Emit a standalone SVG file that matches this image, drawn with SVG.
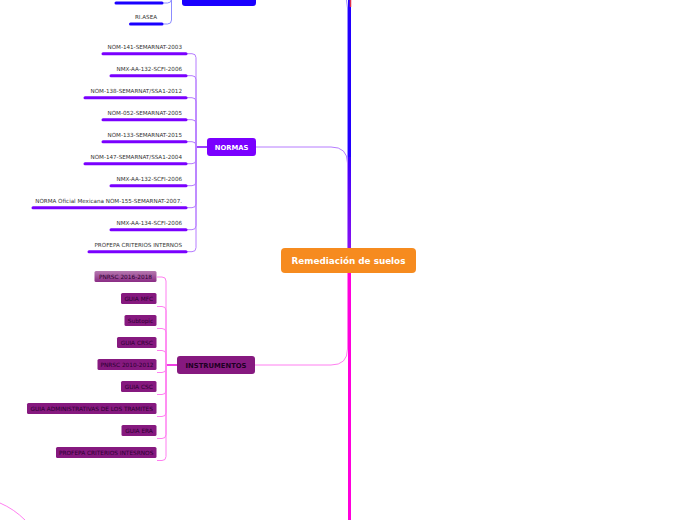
<svg xmlns="http://www.w3.org/2000/svg" width="696" height="520" viewBox="0 0 696 520">
<defs>
<style>
.t{font-family:"DejaVu Sans",Verdana,sans-serif;font-size:5.6px;fill:#333;text-anchor:end}
.bt{font-family:"DejaVu Sans",Verdana,sans-serif;font-size:5.8px;fill:#2a0030;text-anchor:middle}
.nbar{stroke:#7a00ff;stroke-width:3;stroke-linecap:round;fill:none}
.bbar{stroke:#1a00ff;stroke-width:3;stroke-linecap:round;fill:none}
.nbr{stroke:#b67cff;stroke-width:1;fill:none}
.ibr{stroke:#ff7ff0;stroke-width:1;fill:none}
.bbr{stroke:#8c8cff;stroke-width:1;fill:none}
.ibox{fill:#86197f}
</style>
<linearGradient id="g1" x1="0" y1="0" x2="0" y2="1">
<stop offset="0" stop-color="#b679b0"/>
<stop offset="1" stop-color="#8a2b84"/>
</linearGradient>
<linearGradient id="gt" x1="0" y1="157" x2="0" y2="248" gradientUnits="userSpaceOnUse">
<stop offset="0" stop-color="#3a00ff"/>
<stop offset="1" stop-color="#8a10f0"/>
</linearGradient>
</defs>

<g id="connectors">
<path d="M256,-12 H330 Q347.5,-12 347.5,8 V248" stroke="#9a8cff" stroke-width="1" fill="none"/>
<path d="M256,147 H331 Q347.5,147 347.5,163 V248" stroke="#b67cff" stroke-width="1" fill="none"/>
<path d="M255,365 H331 Q347.5,365 347.5,349 V273" stroke="#ff7ff0" stroke-width="1" fill="none"/>
<line x1="349.5" y1="0" x2="349.5" y2="157" stroke="#2200ff" stroke-width="3"/>
<line x1="349.5" y1="157" x2="349.5" y2="249" stroke="url(#gt)" stroke-width="3"/>
<line x1="350.5" y1="0" x2="350.5" y2="7" stroke="#e0304a" stroke-width="1.5"/>
<line x1="349.5" y1="272" x2="349.5" y2="520" stroke="#ff00dc" stroke-width="3"/>
<path d="M0,503 Q14,509 25,520" stroke="#ff7ff0" stroke-width="1" fill="none"/>

<path class="bbr" d="M171.5,-10 V-1 Q171.5,3 167.5,3 H163"/>
<path class="bbr" d="M171.5,-10 V20 Q171.5,24 167.5,24 H163"/>
<line class="bbar" x1="116" y1="3" x2="162" y2="3"/>
<line class="bbar" x1="130.5" y1="24" x2="162" y2="24"/>

<line x1="196" y1="147" x2="207" y2="147" stroke="#7a00ff" stroke-width="1.5"/>
<path class="nbr" d="M196,147 V57.7 Q196,53.7 192,53.7 H187"/>
<path class="nbr" d="M196,147 V79.7 Q196,75.7 192,75.7 H187"/>
<path class="nbr" d="M196,147 V101.7 Q196,97.7 192,97.7 H187"/>
<path class="nbr" d="M196,147 V123.7 Q196,119.7 192,119.7 H187"/>
<path class="nbr" d="M196,147 V145.7 Q196,141.7 192,141.7 H187"/>
<path class="nbr" d="M196,147 V159.7 Q196,163.7 192,163.7 H187"/>
<path class="nbr" d="M196,147 V181.7 Q196,185.7 192,185.7 H187"/>
<path class="nbr" d="M196,147 V203.7 Q196,207.7 192,207.7 H187"/>
<path class="nbr" d="M196,147 V225.7 Q196,229.7 192,229.7 H187"/>
<path class="nbr" d="M196,147 V247.7 Q196,251.7 192,251.7 H187"/>
<line class="nbar" x1="103" y1="53.7" x2="186" y2="53.7"/>
<line class="nbar" x1="111" y1="75.7" x2="186" y2="75.7"/>
<line class="nbar" x1="85" y1="97.7" x2="186" y2="97.7"/>
<line class="nbar" x1="103" y1="119.7" x2="186" y2="119.7"/>
<line class="nbar" x1="103" y1="141.7" x2="186" y2="141.7"/>
<line class="nbar" x1="85" y1="163.7" x2="186" y2="163.7"/>
<line class="nbar" x1="111" y1="185.7" x2="186" y2="185.7"/>
<line class="nbar" x1="33" y1="207.7" x2="186" y2="207.7"/>
<line class="nbar" x1="111" y1="229.7" x2="186" y2="229.7"/>
<line class="nbar" x1="89" y1="251.7" x2="186" y2="251.7"/>

<line x1="166" y1="365" x2="177" y2="365" stroke="#e800d8" stroke-width="1.5"/>
<path class="ibr" d="M166,365 V281 Q166,277 162,277 H157"/>
<path class="ibr" d="M166,365 V310.5 Q166,306.5 162,306.5 H157"/>
<path class="ibr" d="M166,365 V332.5 Q166,328.5 162,328.5 H157"/>
<path class="ibr" d="M166,365 V354.5 Q166,350.5 162,350.5 H157"/>
<path class="ibr" d="M166,365 V368.5 Q166,372.5 162,372.5 H157"/>
<path class="ibr" d="M166,365 V390.5 Q166,394.5 162,394.5 H157"/>
<path class="ibr" d="M166,365 V412.5 Q166,416.5 162,416.5 H157"/>
<path class="ibr" d="M166,365 V434.5 Q166,438.5 162,438.5 H157"/>
<path class="ibr" d="M166,365 V456.5 Q166,460.5 162,460.5 H157"/>
</g>

<g id="top-node">
<rect x="182" y="-14" width="74" height="20" rx="3" fill="#1a00ff"/>
</g>
<g id="ri-asea">
<text class="t" x="146" y="19" style="text-anchor:middle">RI.ASEA</text>
</g>

<g id="center">
<rect x="281" y="248" width="135" height="25" rx="4" fill="#f68b1f"/>
<text x="348.5" y="264" style="font-family:'DejaVu Sans',Verdana,sans-serif;font-size:8.8px;font-weight:bold;fill:#fff;text-anchor:middle">Remediación de suelos</text>
</g>

<g id="normas">
<rect x="207" y="138" width="49" height="18" rx="3" fill="#7a00ff"/>
<text x="231.5" y="149.7" style="font-family:'DejaVu Sans',Verdana,sans-serif;font-size:6.8px;font-weight:bold;fill:#fff;text-anchor:middle">NORMAS</text>
</g>

<g id="instrumentos">
<rect x="177" y="356" width="78" height="18" rx="3" fill="#86197f"/>
<text x="216" y="367.7" style="font-family:'DejaVu Sans',Verdana,sans-serif;font-size:6.8px;font-weight:bold;fill:#1e0024;text-anchor:middle">INSTRUMENTOS</text>
</g>

<g id="normas-items">
<text class="t" x="182" y="48.7">NOM-141-SEMARNAT-2003</text>
<text class="t" x="182" y="70.7">NMX-AA-132-SCFI-2006</text>
<text class="t" x="182" y="92.7">NOM-138-SEMARNAT/SSA1-2012</text>
<text class="t" x="182" y="114.7">NOM-052-SEMARNAT-2005</text>
<text class="t" x="182" y="136.7">NOM-133-SEMARNAT-2015</text>
<text class="t" x="182" y="158.7">NOM-147-SEMARNAT/SSA1-2004</text>
<text class="t" x="182" y="180.7">NMX-AA-132-SCFI-2006</text>
<text class="t" x="182" y="202.7">NORMA Oficial Mexicana NOM-155-SEMARNAT-2007.</text>
<text class="t" x="182" y="224.7">NMX-AA-134-SCFI-2006</text>
<text class="t" x="182" y="246.7">PROFEPA CRITERIOS INTERNOS</text>
</g>

<g id="instrumentos-items">
<rect x="94.5" y="271" width="62" height="11" rx="1.5" fill="url(#g1)"/>
<text class="bt" x="125.5" y="278.7">PNRSC 2016-2018</text>
<rect class="ibox" x="121" y="293" width="35.5" height="11" rx="1.5"/>
<text class="bt" x="138.7" y="300.7">GUIA MFC</text>
<rect class="ibox" x="124.5" y="315" width="32" height="11" rx="1.5"/>
<text class="bt" x="140.5" y="322.7">Subtopic</text>
<rect class="ibox" x="117" y="337" width="39.5" height="11" rx="1.5"/>
<text class="bt" x="136.7" y="344.7">GUIA CRSC</text>
<rect class="ibox" x="97.5" y="359" width="59" height="11" rx="1.5"/>
<text class="bt" x="127" y="366.7">PNRSC 2010-2012</text>
<rect class="ibox" x="121" y="381" width="35.5" height="11" rx="1.5"/>
<text class="bt" x="138.7" y="388.7">GUIA CSC</text>
<rect class="ibox" x="27" y="403" width="129.5" height="11" rx="1.5"/>
<text class="bt" x="91.7" y="410.7">GUIA ADMINISTRATIVAS DE LOS TRAMITES</text>
<rect class="ibox" x="121.5" y="425" width="35" height="11" rx="1.5"/>
<text class="bt" x="139" y="432.7">GUIA ERA</text>
<rect class="ibox" x="56" y="447" width="100.5" height="11" rx="1.5"/>
<text class="bt" x="106.2" y="454.7">PROFEPA CRITERIOS INTESRNOS</text>
</g>
</svg>
